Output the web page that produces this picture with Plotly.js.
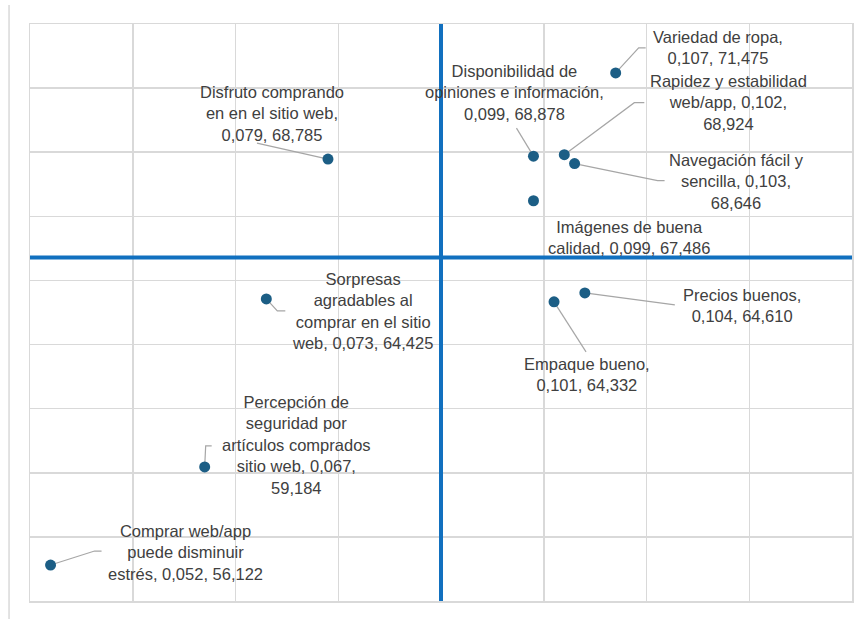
<!DOCTYPE html>
<html>
<head>
<meta charset="utf-8">
<script src="https://cdn.plot.ly/plotly-3.0.1.min.js"></script>
<style>html,body{margin:0;padding:0;background:#fff;}#chart{width:858px;height:619px;}</style>
</head>
<body>
<div id="chart"></div>
<script>
// ---- data ----
const names = [
  "Variedad de ropa",
  "Rapidez y estabilidad web/app",
  "Disponibilidad de opiniones e información",
  "Navegación fácil y sencilla",
  "Imágenes de buena calidad",
  "Disfruto comprando en en el sitio web",
  "Sorpresas agradables al comprar en el sitio web",
  "Empaque bueno",
  "Precios buenos",
  "Percepción de seguridad por artículos comprados sitio web",
  "Comprar web/app puede disminuir estrés"
];
const xVals = [0.107, 0.102, 0.099, 0.103, 0.099, 0.079, 0.073, 0.101, 0.104, 0.067, 0.052];
const yVals = [71.475, 68.924, 68.878, 68.646, 67.486, 68.785, 64.425, 64.332, 64.610, 59.184, 56.122];
const labelText = [
  "Variedad de ropa,<br>0,107, 71,475",
  "Rapidez y estabilidad<br>web/app, 0,102,<br>68,924",
  "Disponibilidad de<br>opiniones e información,<br>0,099, 68,878",
  "Navegación fácil y<br>sencilla, 0,103,<br>68,646",
  "Imágenes de buena<br>calidad, 0,099, 67,486",
  "Disfruto comprando<br>en en el sitio web,<br>0,079, 68,785",
  "Sorpresas<br>agradables al<br>comprar en el sitio<br>web, 0,073, 64,425",
  "Empaque bueno,<br>0,101, 64,332",
  "Precios buenos,<br>0,104, 64,610",
  "Percepción de<br>seguridad por<br>artículos comprados<br>sitio web, 0,067,<br>59,184",
  "Comprar web/app<br>puede disminuir<br>estrés, 0,052, 56,122"
];
const xRef = 0.09;    // vertical quadrant line
const yRef = 65.715;  // horizontal quadrant line

// ---- label layout (pixel offsets from each point, screen coords: y down) ----
const labelOffset = [
  [102, -25.5], [164, -52], [-19, -64], [162, 17.5], [96, 37], [-56, -46],
  [96, 12.5], [33, 72.5], [157, 12.5], [92, -21.5], [135, -12.5]
];
const leaderPath = [
  [[23,-25],[30,-25]],
  [[70,-52],[80,-52]],
  [[-17,-28]],
  [[83,17],[90,17]],
  null,
  [[-71,-16]],
  [[11,12],[19,12]],
  [[32,50]],
  [[90,12]],
  [[1,-21],[7,-21]],
  [[44,-14],[51,-14]]
];

const textColor = "#404040";
const gridColor = "#d9d9d9";
const refColor = "#1170bf";
const markerColor = "#1c5e85";

const shapes = [
  {type:"line", xref:"x", yref:"y", x0:xRef, x1:xRef, y0:55, y1:73, line:{color:refColor, width:4}, layer:"above"},
  {type:"line", xref:"x", yref:"y", x0:0.05, x1:0.13, y0:yRef, y1:yRef, line:{color:refColor, width:4}, layer:"above"},
  {type:"line", xref:"paper", yref:"paper", x0:-0.0255, x1:-0.0255, y0:-0.031, y1:1.033, line:{color:gridColor, width:1.5}, layer:"above"}
];
leaderPath.forEach((pts, i) => {
  if (!pts) return;
  let p = "M0,0";
  pts.forEach(q => { p += " L" + q[0] + "," + (-q[1]); });
  shapes.push({
    type:"path", xref:"x", yref:"y", xsizemode:"pixel", ysizemode:"pixel",
    xanchor:xVals[i], yanchor:yVals[i], path:p,
    line:{color:"#a6a6a6", width:1.2}, layer:"between"
  });
});

const annotations = labelText.map((t, i) => ({
  x: xVals[i], y: yVals[i], xref:"x", yref:"y", text:t, showarrow:false,
  xanchor:"center", yanchor:"middle", align:"center",
  xshift: labelOffset[i][0], yshift: -labelOffset[i][1],
  font:{family:"Liberation Sans, Arial, sans-serif", size:16.5, color:textColor}
}));

const trace = {
  type:"scatter", mode:"markers", x:xVals, y:yVals, text:names,
  marker:{color:markerColor, size:11}, hoverinfo:"text", cliponaxis:false
};

const layout = {
  width:858, height:619,
  margin:{l:30, r:6, t:24, b:18, pad:0},
  paper_bgcolor:"#fff", plot_bgcolor:"#fff",
  showlegend:false,
  xaxis:{range:[0.05,0.13], dtick:0.01, tick0:0.05, showticklabels:false, ticks:"",
         showgrid:true, gridcolor:gridColor, gridwidth:1.5, zeroline:false,
         showline:true, mirror:true, linecolor:gridColor, linewidth:1.5},
  yaxis:{range:[55,73], dtick:2, tick0:55, showticklabels:false, ticks:"",
         showgrid:true, gridcolor:gridColor, gridwidth:1.5, zeroline:false,
         showline:true, mirror:true, linecolor:gridColor, linewidth:1.5},
  shapes: shapes,
  annotations: annotations,
  font:{family:"Liberation Sans, Arial, sans-serif", color:textColor}
};

Plotly.newPlot("chart", [trace], layout, {displayModeBar:false, staticPlot:true});
</script>
</body>
</html>
